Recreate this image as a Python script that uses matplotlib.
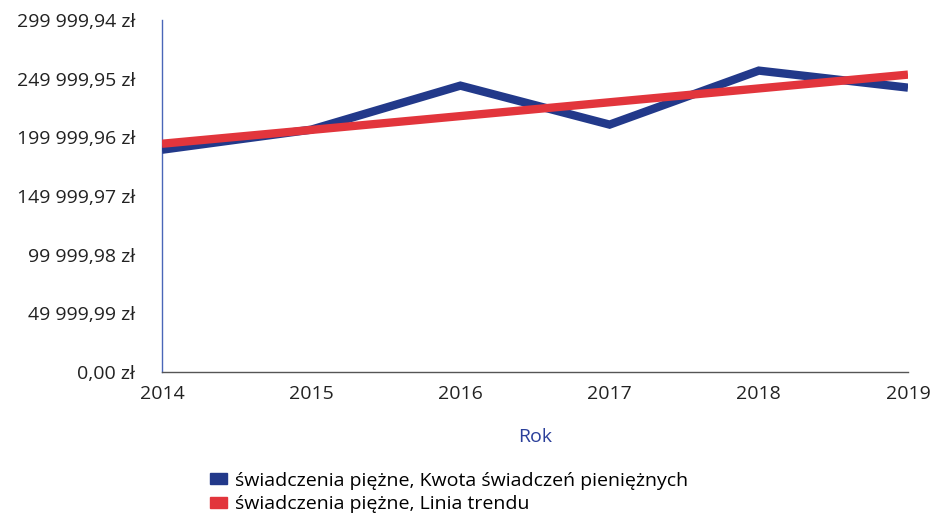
import matplotlib
matplotlib.use("Agg")
import matplotlib.pyplot as plt
from matplotlib.patches import Patch

plt.rcParams['font.family'] = ['Open Sans', 'DejaVu Sans']

# ---------------- data ----------------
years = [2014, 2015, 2016, 2017, 2018, 2019]
kwota = [189400, 206500, 244000, 210800, 256800, 242300]   # zł
trend_years = [2014, 2019]
trend = [194500, 253400]                                      # zł

yticks = [0.00, 49999.99, 99999.98, 149999.97, 199999.96, 249999.95, 299999.94]
ytick_labels = ["0,00 zł", "49 999,99 zł", "99 999,98 zł", "149 999,97 zł",
                "199 999,96 zł", "249 999,95 zł", "299 999,94 zł"]

label_kwota = "świadczenia piężne, Kwota świadczeń pieniężnych"
label_trend = "świadczenia piężne, Linia trendu"

blue = "#22398a"
red = "#e2353c"

# ---------------- plot ----------------
fig = plt.figure(figsize=(9.33, 5.24), dpi=100)
ax = fig.add_axes([0.1736, 0.290, 0.7996, 0.672])

ax.plot(years, kwota, color=blue, linewidth=6, solid_joinstyle="miter",
        solid_capstyle="butt", zorder=3)
ax.plot(trend_years, trend, color=red, linewidth=6, solid_capstyle="butt", zorder=4)

ax.set_xlim(2014, 2019)
ax.set_ylim(0, 299999.94)
ax.set_xticks(years)
ax.set_xticklabels([str(y) for y in years])
ax.set_yticks(yticks)
ax.set_yticklabels(ytick_labels)

ax.tick_params(axis="both", length=0, labelsize=14, labelcolor="#222222")
ax.tick_params(axis="y", pad=19.5)
ax.tick_params(axis="x", pad=9)

for s in ["top", "right"]:
    ax.spines[s].set_visible(False)
ax.spines["left"].set_color("#4a66b8")
ax.spines["left"].set_linewidth(1.0)
ax.spines["bottom"].set_color("#555555")
ax.spines["bottom"].set_linewidth(1.0)

ax.set_xlabel("Rok", color="#2a3f9a", fontsize=14, labelpad=18)

handles = [Patch(facecolor=blue, edgecolor=blue), Patch(facecolor=red, edgecolor=red)]
fig.legend(handles, [label_kwota, label_trend], loc="upper left",
           bbox_to_anchor=(0.225, 0.10), frameon=False, fontsize=14,
           handlelength=0.9, handleheight=0.5, handletextpad=0.4,
           labelspacing=0.3, borderaxespad=0, borderpad=0)

fig.savefig("out.png", dpi=100)
